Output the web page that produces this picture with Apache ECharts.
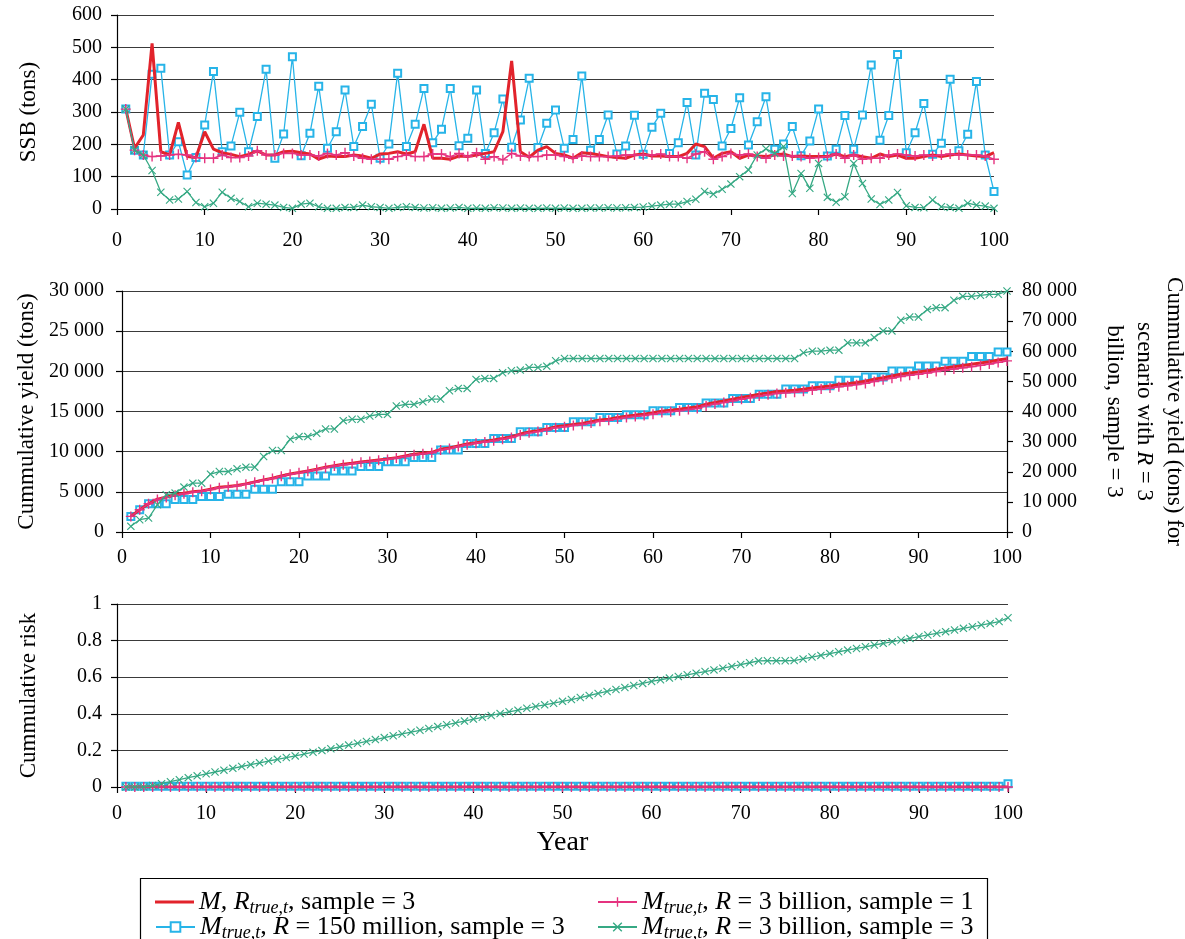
<!DOCTYPE html>
<html>
<head>
<meta charset="utf-8">
<script src="https://cdn.jsdelivr.net/npm/echarts@6/dist/echarts.min.js"></script>
<style>
  html, body { margin: 0; padding: 0; background: #fff; }
  #chart { width: 1185px; height: 939px; }
</style>
</head>
<body>
<div id="chart"></div>
<script>
// years 1..100 on every panel
const years = Array.from({ length: 100 }, (_, i) => i + 1);

// --- SSB (tons), top panel
const ssbRed = [310,188,229,512,177,167,268,162,159,239, 185,174,169,162,169,180,167,167,177,179,
  174,170,154,164,162,162,167,164,157,170, 172,177,170,177,262,157,157,154,164,162,
  167,172,177,239,458,177,160,182,193,172, 167,157,174,172,167,162,159,157,167,170,
  164,164,162,162,172,201,193,157,172,177, 157,167,164,162,167,170,162,164,162,162,
  162,170,162,167,162,157,170,162,167,157, 157,162,167,162,167,170,167,164,162,174];
const ssbBlue = [309,182,167,417,435,167,208,105,159,260, 425,177,195,299,177,286,432,157,232,471,
  165,234,380,188,239,368,193,255,324,157, 201,420,193,262,373,205,247,373,196,219,
  368,172,236,340,191,275,404,190,265,306, 188,215,411,182,215,291,170,195,290,169,
  253,296,172,205,329,167,358,339,195,249, 344,198,270,347,185,201,255,165,210,309,
  164,185,289,185,291,445,213,289,478,174, 236,326,169,203,401,180,231,394,167,54];
const ssbMag = [309,182,167,162,164,167,169,167,159,157, 157,167,159,159,164,180,167,167,172,172,
  167,167,164,172,167,174,164,157,154,154, 154,162,167,162,162,170,170,162,172,162,
  174,154,162,152,172,164,162,162,167,167, 162,157,164,162,162,162,164,167,167,167,
  167,170,162,162,157,170,177,154,162,172, 167,170,162,157,167,164,164,162,157,159,
  162,170,157,167,154,157,157,167,170,167, 164,167,164,167,170,167,167,167,164,154];
const ssbGreen = [309,182,167,119,52,28,31,54,20,7, 18,52,33,23,7,18,15,12,5,2,
  15,18,7,2,2,5,5,12,7,5, 2,5,7,5,3,4,2,3,5,2,
  3,2,4,3,2,3,2,2,3,2, 3,2,2,3,3,4,3,4,5,6,
  9,12,15,15,23,30,54,46,61,77, 100,121,167,186,172,193,48,110,64,141,
  36,21,38,141,79,31,14,28,51,10, 5,4,28,7,5,2,18,12,9,2];

// --- cumulative yield (tons), middle panel
const yieldRed = [1940,2770,3510,4090,4340,4630,4830,5000,5120,5330, 5580,5660,5790,5990,6240,6490,6690,6980,7230,7400,
  7600,7810,8060,8260,8430,8550,8720,8840,8970,9090, 9260,9460,9670,9790,9920,10290,10450,10700,10950,11120,
  11280,11450,11650,11860,12190,12440,12600,12810,13100,13220, 13390,13510,13720,13930,14050,14260,14420,14550,14670,14840,
  15040,15170,15290,15450,15580,15910,16120,16320,16530,16740, 16940,17150,17310,17480,17560,17640,17770,17930,18060,18180,
  18350,18470,18600,18760,19010,19210,19420,19630,19790,19920, 20080,20250,20410,20580,20740,20870,21030,21200,21400,21570];
const yieldBlue = [1940,2770,3510,3510,3510,4050,4050,4050,4420,4420, 4420,4710,4710,4710,5330,5330,5330,6240,6240,6240,
  6980,6980,6980,7600,7600,7600,8140,8140,8140,8760, 8760,8760,9260,9260,9260,10210,10210,10210,11030,11030,
  11030,11650,11650,11650,12480,12480,12480,13020,13020,13020, 13720,13720,13720,14260,14260,14260,14590,14590,14590,15080,
  15080,15080,15500,15500,15500,16070,16070,16070,16610,16610, 16610,17150,17150,17150,17810,17810,17810,18220,18220,18220,
  18880,18880,18880,19300,19300,19300,20040,20040,20040,20660, 20660,20660,21240,21240,21240,21860,21860,21860,22400,22400];
const yieldMag = [1940,2770,3510,4050,4300,4560,4770,4950,5080,5280, 5520,5620,5750,5950,6200,6440,6650,6930,7180,7360,
  7560,7770,8010,8210,8380,8500,8670,8790,8920,9040, 9200,9400,9610,9730,9860,10220,10380,10630,10870,11040,
  11200,11360,11560,11770,12090,12340,12500,12700,12980,13100, 13260,13380,13580,13790,13900,14100,14260,14390,14500,14660,
  14860,14980,15100,15250,15380,15700,15920,16110,16320,16520, 16720,16920,17080,17250,17320,17400,17530,17680,17810,17930,
  18090,18210,18340,18500,18740,18940,19150,19350,19510,19640, 19800,19970,20130,20290,20450,20580,20740,20910,21110,21300];
// right axis: scenario R = 3 billion, sample = 3
const yieldGreen = [1880,4080,4630,9050,12360,12910,14900,16220,16220,19200, 20080,20080,20970,21520,21520,25050,27030,27030,30790,31670,
  31670,32770,34210,34210,36970,37410,37410,38510,39060,39060, 41820,42370,42370,43260,44140,44140,46900,47670,47670,50650,
  50980,50980,52860,53520,53740,54620,54620,55060,56830,57600, 57600,57600,57600,57600,57600,57600,57600,57600,57600,57600,
  57600,57600,57600,57600,57600,57600,57600,57600,57600,57600, 57600,57600,57600,57600,57600,57600,59480,60030,60030,60360,
  60360,62790,62790,62790,64550,66760,66760,70290,71390,71390, 73820,74480,74480,76910,78230,78230,78570,78900,78900,80000];

// --- cumulative risk, bottom panel
const riskRed = [0,0,0,0,0,0,0,0,0,0, 0,0,0,0,0,0,0,0,0,0, 0,0,0,0,0,0,0,0,0,0, 0,0,0,0,0,0,0,0,0,0,
  0,0,0,0,0,0,0,0,0,0, 0,0,0,0,0,0,0,0,0,0, 0,0,0,0,0,0,0,0,0,0, 0,0,0,0,0,0,0,0,0,0,
  0,0,0,0,0,0,0,0,0,0, 0,0,0,0,0,0,0,0,0,0];
const riskBlue = [0.004,0.004,0.004,0.004,0.004,0.004,0.004,0.004,0.004,0.004, 0.004,0.004,0.004,0.004,0.004,0.004,0.004,0.004,0.004,0.004,
  0.004,0.004,0.004,0.004,0.004,0.004,0.004,0.004,0.004,0.004, 0.004,0.004,0.004,0.004,0.004,0.004,0.004,0.004,0.004,0.004,
  0.004,0.004,0.004,0.004,0.004,0.004,0.004,0.004,0.004,0.004, 0.004,0.004,0.004,0.004,0.004,0.004,0.004,0.004,0.004,0.004,
  0.004,0.004,0.004,0.004,0.004,0.004,0.004,0.004,0.004,0.004, 0.004,0.004,0.004,0.004,0.004,0.004,0.004,0.004,0.004,0.004,
  0.004,0.004,0.004,0.004,0.004,0.004,0.004,0.004,0.004,0.004, 0.004,0.004,0.004,0.004,0.004,0.004,0.004,0.004,0.004,0.018];
const riskMag = [0,0,0,0,0,0,0,0,0,0, 0,0,0,0,0,0,0,0,0,0, 0,0,0,0,0,0,0,0,0,0, 0,0,0,0,0,0,0,0,0,0,
  0,0,0,0,0,0,0,0,0,0, 0,0,0,0,0,0,0,0,0,0, 0,0,0,0,0,0,0,0,0,0, 0,0,0,0,0,0,0,0,0,0,
  0,0,0,0,0,0,0,0,0,0, 0,0,0,0,0,0,0,0,0,0];
const riskGreen = [0,0,0,0.008,0.018,0.029,0.040,0.051,0.061,0.072, 0.082,0.092,0.102,0.112,0.122,0.132,0.142,0.151,0.161,0.170,
  0.180,0.190,0.199,0.209,0.219,0.229,0.239,0.249,0.259,0.270, 0.280,0.290,0.300,0.310,0.320,0.330,0.340,0.350,0.360,0.371,
  0.381,0.391,0.401,0.411,0.420,0.430,0.440,0.449,0.458,0.468, 0.478,0.489,0.500,0.511,0.522,0.533,0.544,0.555,0.566,0.577,
  0.586,0.595,0.604,0.613,0.622,0.631,0.640,0.649,0.659,0.669, 0.679,0.689,0.690,0.690,0.690,0.691,0.700,0.710,0.719,0.729,
  0.739,0.748,0.757,0.766,0.776,0.785,0.794,0.803,0.812,0.822, 0.831,0.840,0.849,0.858,0.867,0.876,0.885,0.894,0.904,0.925];

const FONT = "'Liberation Serif', 'Times New Roman', serif";
const RED = '#e2232b', BLUE = '#27b4e8', MAG = '#e5337f', GREEN = '#36a984';
const NAME_RED = 'red', NAME_BLUE = 'blue', NAME_MAG = 'mag', NAME_GREEN = 'green';
const plusPath = 'path://M4.3,0H5.7V4.3H10V5.7H5.7V10H4.3V5.7H0V4.3H4.3Z';
const crossPath = 'path://M0,1L1,0L5,4L9,0L10,1L6,5L10,9L9,10L5,6L1,10L0,9L4,5Z';

const legendText = {
  red: '{i|M,} {i|R}{s|true,t}, sample = 3',
  blue: '{i|M}{s|true,t}, {i|R} = 150 million, sample = 3',
  mag: '{i|M}{s|true,t}, {i|R} = 3 billion, sample = 1',
  green: '{i|M}{s|true,t}, {i|R} = 3 billion, sample = 3'
};

function pairs(arr) { return years.map((y, i) => [y, arr[i]]); }
function thousands(v) { return String(v).replace(/\B(?=(\d{3})+(?!\d))/g, ' '); }

function redS(arr, g, y) {
  return { name: NAME_RED, type: 'line', xAxisIndex: g, yAxisIndex: y, data: pairs(arr),
    symbol: 'none', lineStyle: { color: RED, width: 3 }, itemStyle: { color: RED }, z: 3 };
}
function blueS(arr, g, y) {
  return { name: NAME_BLUE, type: 'line', xAxisIndex: g, yAxisIndex: y, data: pairs(arr),
    symbol: 'emptyRect', symbolSize: 7, showAllSymbol: true,
    lineStyle: { color: BLUE, width: 1.3 }, itemStyle: { color: BLUE, borderColor: BLUE, borderWidth: 1.5 }, z: 2 };
}
function magS(arr, g, y) {
  return { name: NAME_MAG, type: 'line', xAxisIndex: g, yAxisIndex: y, data: pairs(arr),
    symbol: plusPath, symbolSize: 10, showAllSymbol: true,
    lineStyle: { color: MAG, width: 1.5 }, itemStyle: { color: MAG, borderWidth: 0 }, z: 4 };
}
function greenS(arr, g, y) {
  return { name: NAME_GREEN, type: 'line', xAxisIndex: g, yAxisIndex: y, data: pairs(arr),
    symbol: crossPath, symbolSize: 8, showAllSymbol: true,
    lineStyle: { color: GREEN, width: 1.3 }, itemStyle: { color: GREEN, borderWidth: 0 }, z: 5 };
}

const axisLine = { show: true, lineStyle: { color: '#000', width: 1.2 } };
const axisTick = { show: true, length: 6, lineStyle: { color: '#000', width: 1.2 } };
const split = { show: true, lineStyle: { color: '#3a3a3a', width: 1.2 } };
const lbl = { color: '#000', fontFamily: FONT, fontSize: 20 };
const nameStyle = { color: '#000', fontFamily: FONT, fontSize: 23 };

function xAx(g, margin, extra) {
  return Object.assign({ type: 'value', gridIndex: g, min: 0, max: 100, interval: 10,
    axisLine: axisLine, axisTick: axisTick, splitLine: { show: false },
    axisLabel: Object.assign({ margin: margin }, lbl) }, extra || {});
}

function oneLegend(name, left, top, icon, itemHeight) {
  return { left: left, top: top, itemGap: 0, itemWidth: 39, itemHeight: itemHeight,
    data: [icon ? { name: name, icon: icon } : name], formatter: n => legendText[n], selectedMode: false,
    textStyle: { color: '#000', fontFamily: FONT, fontSize: 26,
      rich: { i: { fontStyle: 'italic', fontFamily: FONT, fontSize: 26, color: '#000' },
              s: { fontStyle: 'italic', fontFamily: FONT, fontSize: 18, color: '#000', padding: [13, 0, 0, 0] } } } };
}

const chart = echarts.init(document.getElementById('chart'));
chart.setOption({
  animation: false,
  backgroundColor: '#fff',
  grid: [
    { left: 117, top: 15, width: 877, height: 194, outerBoundsMode: 'none' },
    { left: 122, top: 291, width: 885, height: 241, outerBoundsMode: 'none' },
    { left: 117, top: 604, width: 891, height: 183, outerBoundsMode: 'none' }
  ],
  xAxis: [
    xAx(0, 22),
    xAx(1, 16),
    xAx(2, 17, { name: 'Year', nameLocation: 'middle', nameGap: 42,
      nameTextStyle: { color: '#000', fontFamily: FONT, fontSize: 28 } })
  ],
  yAxis: [
    { type: 'value', gridIndex: 0, min: 0, max: 600, interval: 100,
      axisLine: axisLine, axisTick: axisTick, splitLine: split, axisLabel: Object.assign({ margin: 15 }, lbl),
      name: 'SSB (tons)', nameLocation: 'middle', nameGap: 77, nameTextStyle: nameStyle },
    { type: 'value', gridIndex: 1, min: 0, max: 30000, interval: 5000,
      axisLine: axisLine, axisTick: axisTick, splitLine: split,
      axisLabel: Object.assign({ margin: 18, formatter: thousands }, lbl),
      name: 'Cummulative yield (tons)', nameLocation: 'middle', nameGap: 82, nameTextStyle: nameStyle },
    { type: 'value', gridIndex: 1, position: 'right', min: 0, max: 80000, interval: 10000,
      axisLine: axisLine, axisTick: axisTick, splitLine: { show: false },
      axisLabel: Object.assign({ margin: 15, formatter: thousands }, lbl),
      name: 'Cummulative yield (tons) for\nscenario with {i|R} = 3\nbillion, sample = 3',
      nameLocation: 'middle', nameGap: 92, nameRotate: -90,
      nameTextStyle: Object.assign({ lineHeight: 30,
        rich: { i: { fontStyle: 'italic', fontFamily: FONT, fontSize: 23, color: '#000', lineHeight: 30 } } }, nameStyle) },
    { type: 'value', gridIndex: 2, min: 0, max: 1, interval: 0.2,
      axisLine: axisLine, axisTick: axisTick, splitLine: split, axisLabel: Object.assign({ margin: 15 }, lbl),
      name: 'Cummulative risk', nameLocation: 'middle', nameGap: 77, nameTextStyle: nameStyle }
  ],
  legend: [
    oneLegend(NAME_RED, 150, 884, 'rect', 3),
    oneLegend(NAME_BLUE, 150, 909, null, 12),
    oneLegend(NAME_MAG, 592, 884, null, 12),
    oneLegend(NAME_GREEN, 592, 909, null, 12)
  ],
  graphic: [
    { type: 'rect', left: 138, top: 876, shape: { width: 847, height: 80 },
      style: { fill: 'none', stroke: '#000', lineWidth: 1.2 }, z: -1 }
  ],
  series: [
    blueS(ssbBlue, 0, 0), redS(ssbRed, 0, 0), magS(ssbMag, 0, 0), greenS(ssbGreen, 0, 0),
    blueS(yieldBlue, 1, 1), redS(yieldRed, 1, 1), magS(yieldMag, 1, 1), greenS(yieldGreen, 1, 2),
    blueS(riskBlue, 2, 3), redS(riskRed, 2, 3), magS(riskMag, 2, 3), greenS(riskGreen, 2, 3)
  ]
});
</script>
</body>
</html>
